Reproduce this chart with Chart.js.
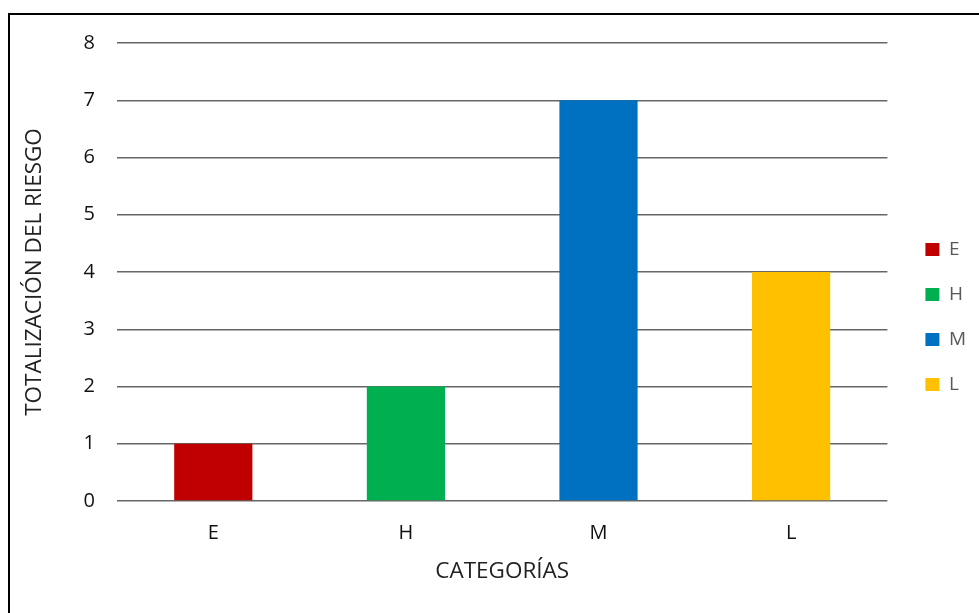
<!DOCTYPE html>
<html lang="es">
<head>
<meta charset="utf-8">
<title>Totalización del riesgo por categorías</title>
<script src="https://cdn.jsdelivr.net/npm/chart.js@4/dist/chart.umd.min.js"></script>
<style>
  html, body { margin: 0; padding: 0; background: #ffffff; }
  body { width: 979px; height: 613px; position: relative; overflow: hidden; }
  #frame {
    position: absolute; left: 8px; top: 13px;
    width: 1000px; height: 700px;
    border: 2px solid #000000; box-sizing: border-box;
    pointer-events: none;
  }
  #wrap { position: absolute; left: 0; top: 0; width: 979px; height: 613px; }
</style>
</head>
<body>
<div id="wrap"><canvas id="chart" width="979" height="613"></canvas></div>
<div id="frame"></div>
<script>
// Risk totals per category
const categories = ['E', 'H', 'M', 'L'];
const riskTotals = [1, 2, 7, 4];
const categoryColors = ['#C00000', '#00B050', '#0070C0', '#FFC000'];
const yTickValues = [0, 1, 2, 3, 4, 5, 6, 7, 8];

const FONT = '"Open Sans", Lato, "DejaVu Sans", sans-serif';

new Chart(document.getElementById('chart'), {
  type: 'bar',
  data: {
    labels: categories,
    datasets: [{
      label: 'Totalización',
      data: riskTotals,
      backgroundColor: categoryColors,
      borderWidth: 0,
      barPercentage: 0.406,
      categoryPercentage: 1.0
    }]
  },
  options: {
    responsive: false,
    animation: false,
    devicePixelRatio: 1,
    layout: { padding: { left: 0, top: 43, right: 3, bottom: 22 } },
    plugins: {
      tooltip: { enabled: false },
      legend: {
        position: 'right',
        align: 'center',
        labels: {
          font: { family: FONT, size: 19 },
          color: '#595959',
          boxWidth: 14,
          boxHeight: 13,
          padding: 26,
          // one entry per category, coloured like its bar
          generateLabels(chart) {
            const ds = chart.data.datasets[0];
            return chart.data.labels.map((lab, i) => ({
              text: lab,
              fillStyle: ds.backgroundColor[i],
              strokeStyle: ds.backgroundColor[i],
              lineWidth: 0,
              hidden: false,
              index: i,
              fontColor: '#595959'
            }));
          }
        }
      }
    },
    scales: {
      x: {
        grid: { display: false, drawTicks: false },
        border: { display: false },
        ticks: {
          font: { family: FONT, size: 20 },
          color: '#111111',
          padding: 20.5
        },
        title: {
          display: true,
          text: 'CATEGORÍAS',
          font: { family: FONT, size: 22.5 },
          color: '#222222',
          padding: { top: 0, bottom: 5.5 }
        },
        afterFit(scale) { scale.height = 90; }
      },
      y: {
        min: 0,
        max: 8,
        afterBuildTicks(scale) {
          scale.ticks = yTickValues.map(v => ({ value: v }));
        },
        grid: {
          color: '#666666',
          lineWidth: 1.5,
          drawTicks: false
        },
        border: { display: false },
        ticks: {
          font: { family: FONT, size: 20 },
          color: '#111111',
          padding: 22
        },
        title: {
          display: true,
          text: 'TOTALIZACIÓN DEL RIESGO',
          font: { family: FONT, size: 22.5 },
          color: '#222222',
          padding: { top: 21.5, bottom: 0 }
        },
        afterFit(scale) { scale.width = 117; }
      },
      // empty spacer between the plot and the legend
      gap: {
        type: 'linear',
        position: 'right',
        display: true,
        grid: { display: false, drawTicks: false },
        border: { display: false },
        ticks: { display: false },
        afterFit(scale) { scale.width = 12; }
      }
    }
  }
});
</script>
</body>
</html>
